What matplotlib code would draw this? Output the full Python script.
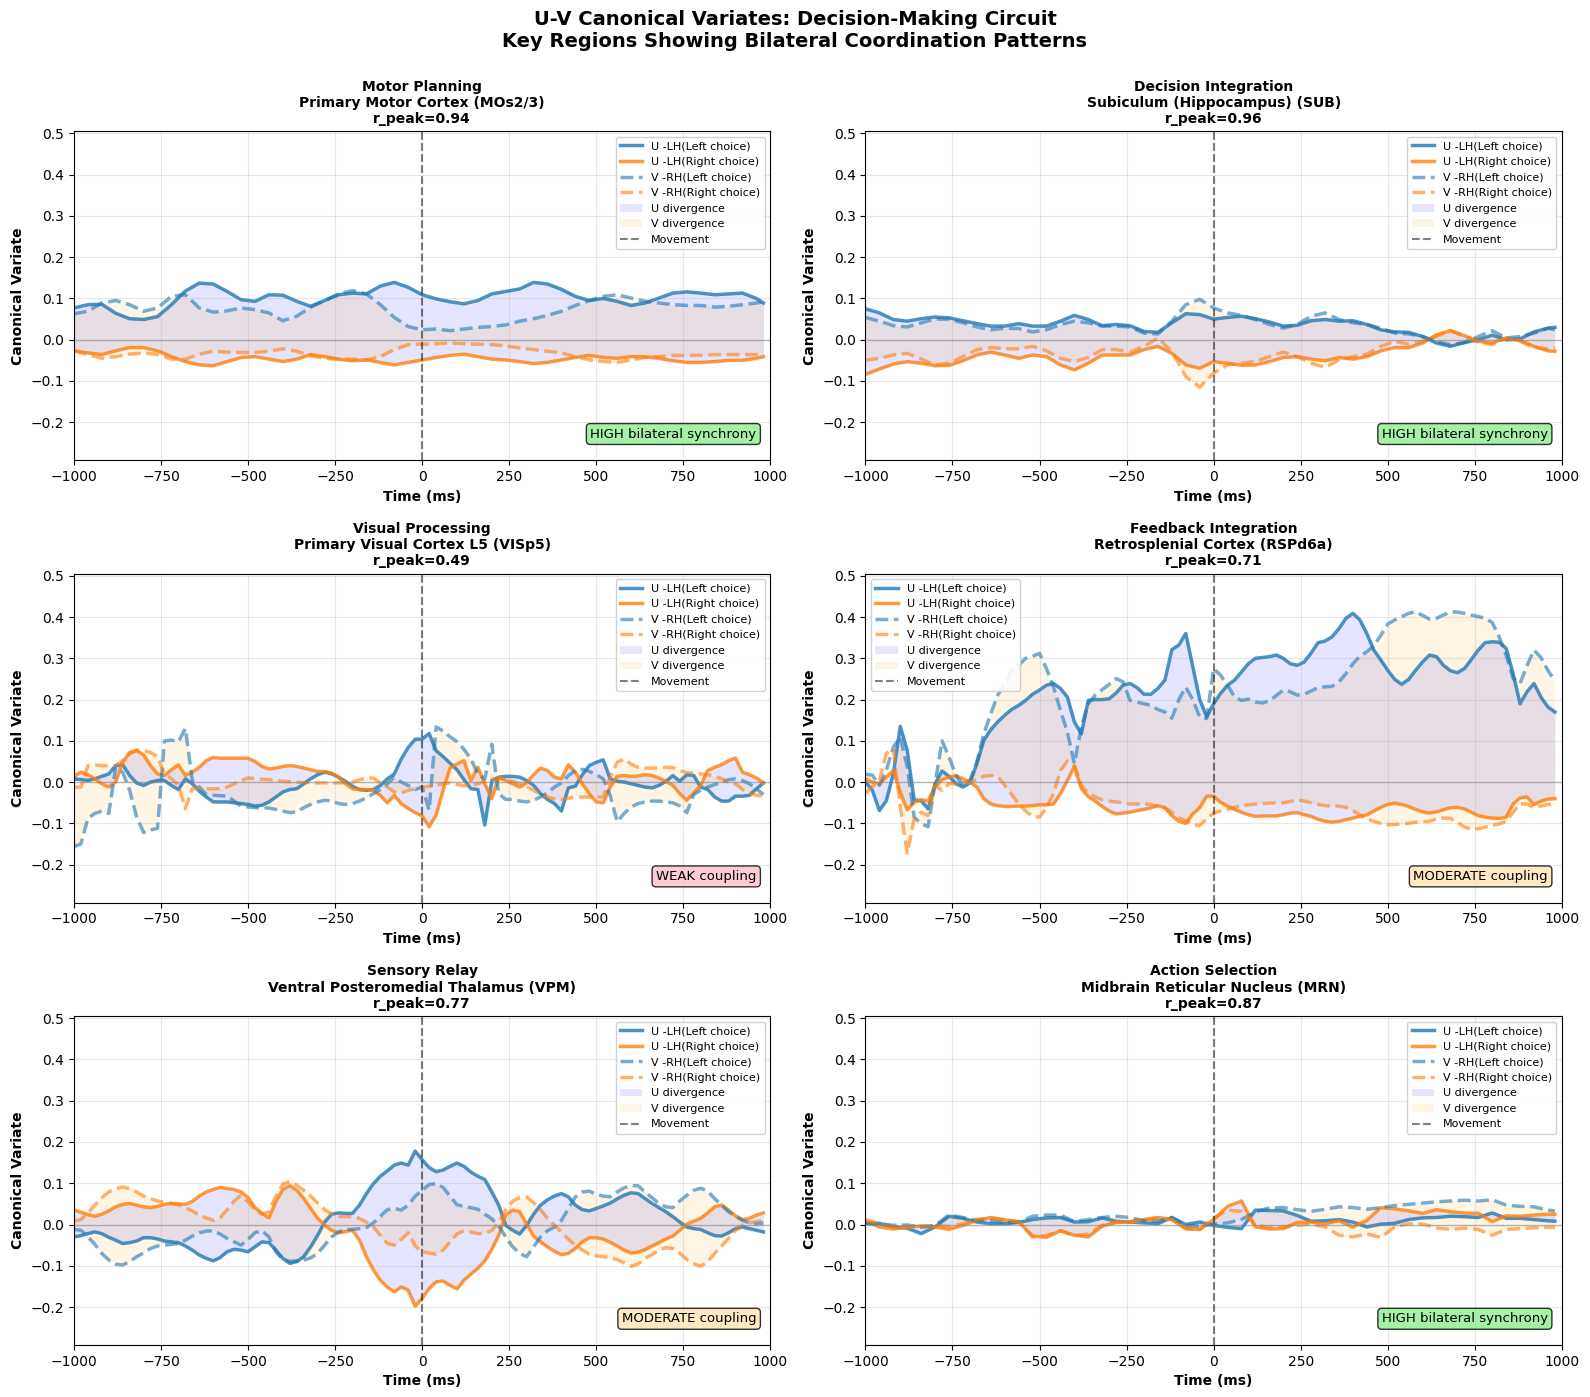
import numpy as np
import matplotlib
matplotlib.use("Agg")
import matplotlib.pyplot as plt

# time axes (ms): coarse grid for smooth panels, fine grid for jagged ones
T_COARSE = np.append(np.arange(-1000, 1000, 40), 980)
T_FINE = np.arange(-1000, 1000, 20)

TITLES = [
    "Motor Planning\nPrimary Motor Cortex (MOs2/3)\nr_peak=0.94",
    "Decision Integration\nSubiculum (Hippocampus) (SUB)\nr_peak=0.96",
    "Visual Processing\nPrimary Visual Cortex L5 (VISp5)\nr_peak=0.49",
    "Feedback Integration\nRetrosplenial Cortex (RSPd6a)\nr_peak=0.71",
    "Sensory Relay\nVentral Posteromedial Thalamus (VPM)\nr_peak=0.77",
    "Action Selection\nMidbrain Reticular Nucleus (MRN)\nr_peak=0.87",
]
COUPLING = ["HIGH bilateral synchrony", "HIGH bilateral synchrony", "WEAK coupling",
            "MODERATE coupling", "MODERATE coupling", "HIGH bilateral synchrony"]

# --- panel 1: MOs2/3 ---
U_L1 = [0.077, 0.085, 0.086, 0.064, 0.051, 0.049, 0.056, 0.085, 0.118, 0.137, 0.135, 0.117, 0.097,
        0.093, 0.109, 0.108, 0.093, 0.081, 0.095, 0.109, 0.113, 0.111, 0.13, 0.139, 0.127,
        0.109, 0.099, 0.092, 0.087, 0.095, 0.111, 0.117, 0.123, 0.139, 0.135, 0.122, 0.105, 0.095,
        0.1, 0.093, 0.083, 0.089, 0.101, 0.113, 0.116, 0.113, 0.109, 0.111, 0.113, 0.1, 0.089]
U_R1 = [-0.027, -0.032, -0.036, -0.027, -0.019, -0.019, -0.027, -0.041, -0.053, -0.061, -0.063,
        -0.053, -0.043, -0.041, -0.047, -0.053, -0.047, -0.036, -0.041, -0.047, -0.051, -0.049,
        -0.055, -0.061, -0.055,
        -0.049, -0.043, -0.038, -0.035, -0.041, -0.047, -0.049, -0.053, -0.058, -0.055, -0.049,
        -0.043, -0.038, -0.043, -0.045, -0.041, -0.041, -0.045, -0.051, -0.055, -0.055, -0.053,
        -0.05, -0.05, -0.045, -0.041]
V_L1 = [0.063, 0.069, 0.089, 0.095, 0.085, 0.069, 0.077, 0.105, 0.109, 0.077, 0.067, 0.07, 0.077,
        0.073, 0.065, 0.046, 0.057, 0.079, 0.095, 0.111, 0.119, 0.111, 0.085, 0.054, 0.032,
        0.024, 0.026, 0.022, 0.026, 0.03, 0.032, 0.036, 0.045, 0.051, 0.059, 0.069, 0.083, 0.095,
        0.105, 0.109, 0.101, 0.093, 0.089, 0.085, 0.083, 0.083, 0.079, 0.081, 0.085, 0.089, 0.092]
V_R1 = [-0.027, -0.036, -0.045, -0.041, -0.035, -0.032, -0.036, -0.047, -0.047, -0.035, -0.028,
        -0.03, -0.031, -0.031, -0.028, -0.022, -0.028, -0.039, -0.045, -0.047, -0.047, -0.049,
        -0.041, -0.024, -0.012,
        -0.011, -0.01, -0.008, -0.01, -0.011, -0.012, -0.015, -0.02, -0.024, -0.028, -0.032,
        -0.041, -0.049, -0.053, -0.055, -0.049, -0.043, -0.041, -0.038, -0.038, -0.038, -0.036,
        -0.036, -0.036, -0.036, -0.036]

# --- panel 2: SUB ---
U_L2 = [0.075, 0.065, 0.049, 0.045, 0.051, 0.055, 0.053, 0.046, 0.039, 0.033, 0.033, 0.039, 0.033,
        0.033, 0.045, 0.059, 0.049, 0.034, 0.037, 0.034, 0.02, 0.018, 0.041, 0.063, 0.061,
        0.05, 0.054, 0.057, 0.051, 0.043, 0.033, 0.035, 0.046, 0.049, 0.045, 0.046, 0.037, 0.024,
        0.019, 0.018, 0.008, -0.008, -0.016, -0.007, 0.0, 0.011, 0.0, 0.002, 0.019, 0.028, 0.03]
U_R2 = [-0.084, -0.071, -0.059, -0.053, -0.057, -0.063, -0.062, -0.051, -0.037, -0.03, -0.037,
        -0.045, -0.037, -0.041, -0.061, -0.073, -0.057, -0.037, -0.037, -0.037, -0.024, -0.016,
        -0.033, -0.061, -0.069,
        -0.053, -0.057, -0.062, -0.061, -0.053, -0.043, -0.041, -0.047, -0.051, -0.043, -0.047,
        -0.041, -0.027, -0.019, -0.019, -0.008, 0.012, 0.022, 0.01, -0.004, -0.008, 0.004,
        -0.002, -0.016, -0.027, -0.028]
V_L2 = [0.054, 0.045, 0.034, 0.031, 0.041, 0.05, 0.05, 0.041, 0.031, 0.024, 0.028, 0.027, 0.019,
        0.024, 0.037, 0.045, 0.041, 0.033, 0.033, 0.031, 0.016, 0.014, 0.045, 0.085, 0.098,
        0.077, 0.065, 0.059, 0.049, 0.037, 0.028, 0.037, 0.057, 0.065, 0.049, 0.041, 0.037, 0.028,
        0.016, 0.014, 0.008, -0.004, -0.012, -0.007, 0.008, 0.022, 0.004, 0.008, 0.016, 0.028, 0.024]
V_R2 = [-0.05, -0.045, -0.037, -0.033, -0.047, -0.061, -0.057, -0.041, -0.024, -0.019, -0.022,
        -0.022, -0.016, -0.027, -0.045, -0.053, -0.043, -0.024, -0.024, -0.03, -0.016, 0.004,
        -0.028, -0.089, -0.115,
        -0.081, -0.061, -0.057, -0.053, -0.041, -0.03, -0.041, -0.057, -0.067, -0.049, -0.041,
        -0.035, -0.016, -0.004, -0.011, -0.004, 0.008, 0.022, 0.008, -0.006, -0.012, 0.004,
        -0.004, -0.019, -0.022, -0.019]

# --- panel 3: VISp5 ---
U_L3 = [0.008, 0.006, 0.004, 0.008, 0.014, 0.02, 0.04, 0.042, 0.016, -0.002,
        -0.008, 0.0, 0.004, 0.004, -0.008, -0.018, 0.008, -0.004, -0.022, -0.036,
        -0.048, -0.048, -0.048, -0.05, -0.052, -0.054, -0.058, -0.056, -0.048, -0.036,
        -0.024, -0.018, -0.016, -0.004, 0.008, 0.018, 0.024, 0.02, 0.012, 0.002,
        -0.01, -0.018, -0.02, -0.018, -0.008, 0.008, 0.02, 0.056, 0.084, 0.104,
        0.104, 0.118, 0.076, 0.062, 0.046, 0.03, 0.006, -0.016, -0.018, -0.104,
        0.004, 0.012, 0.014, 0.014, 0.012, 0.004, -0.008, -0.028, -0.042, -0.052,
        -0.07, -0.014, -0.01, 0.018, 0.04, 0.048, 0.054, 0.008, 0.002, 0.0,
        -0.004, -0.008, -0.012, -0.014, -0.008, 0.002, 0.016, 0.002, 0.018, 0.016,
        -0.012, -0.018, -0.036, -0.046, -0.046, -0.034, -0.034, -0.032, -0.016, -0.002]
U_R3 = [0.014, 0.024, 0.018, 0.008, -0.004, -0.012, 0.0, 0.048, 0.072, 0.076,
        0.066, 0.04, 0.02, 0.016, 0.03, 0.042, 0.016, 0.024, 0.036, 0.052,
        0.06, 0.058, 0.058, 0.058, 0.058, 0.058, 0.05, 0.038, 0.032, 0.034,
        0.038, 0.04, 0.038, 0.034, 0.03, 0.026, 0.026, 0.022, 0.012, -0.004,
        -0.016, -0.018, -0.018, -0.02, -0.032, -0.05, -0.032, -0.052, -0.064, -0.074,
        -0.082, -0.108, -0.08, -0.02, 0.034, 0.044, 0.052, 0.004, 0.036, -0.004,
        -0.04, 0.012, 0.004, -0.004, -0.012, -0.002, 0.018, 0.034, 0.028, 0.012,
        0.008, 0.042, 0.024, -0.004, -0.028, -0.048, -0.05, -0.012, 0.014, 0.016,
        0.014, 0.015, 0.018, 0.016, 0.01, 0.002, -0.008, -0.028, -0.044, -0.026,
        -0.008, 0.028, 0.036, 0.042, 0.052, 0.058, 0.024, 0.018, 0.01, -0.002]
V_L3 = [-0.156, -0.15, -0.088, -0.076, -0.07, -0.076, 0.036, 0.024, -0.02, -0.084,
        -0.122, -0.116, -0.112, 0.1, 0.102, 0.098, 0.13, 0.004, -0.012, -0.03,
        -0.032, -0.033, -0.034, -0.046, -0.058, -0.06, -0.062, -0.062, -0.063, -0.066,
        -0.07, -0.074, -0.072, -0.062, -0.054, -0.048, -0.044, -0.046, -0.052, -0.054,
        -0.052, -0.046, -0.038, -0.028, -0.018, -0.004, 0.012, 0.0, -0.008, -0.018,
        -0.012, -0.068, 0.134, 0.124, 0.11, 0.098, 0.08, 0.056, 0.02, 0.008,
        0.092, -0.028, -0.042, -0.042, -0.046, -0.048, -0.044, -0.036, -0.026, -0.012,
        -0.002, 0.016, 0.028, 0.031, 0.026, 0.018, 0.008, -0.032, -0.096, -0.076,
        -0.06, -0.052, -0.048, -0.046, -0.046, -0.048, -0.05, -0.058, -0.074, -0.03,
        -0.02, -0.012, -0.006, 0.0, 0.006, 0.008, 0.004, -0.004, -0.016, -0.03]
V_R3 = [-0.012, -0.012, 0.04, 0.042, 0.04, 0.04, 0.04, 0.052, 0.068, 0.078,
        0.076, 0.072, 0.062, 0.02, 0.008, -0.008, -0.064, -0.016, -0.014, -0.016,
        -0.016, -0.016, -0.012, -0.004, 0.004, 0.01, 0.009, 0.007, 0.006, 0.004,
        0.002, 0.001, 0.0, -0.001, -0.001, -0.002, -0.002, -0.002, -0.002, -0.001,
        0.0, 0.006, 0.01, 0.01, -0.002, -0.012, -0.024, -0.026, -0.02, -0.016,
        -0.012, -0.01, -0.008, -0.004, -0.002, -0.006, -0.009, -0.009, -0.004, 0.002,
        0.007, 0.008, 0.007, 0.002, -0.004, -0.01, -0.02, -0.03, -0.036, -0.041,
        -0.042, -0.039, -0.036, -0.036, -0.036, -0.036, -0.036, 0.012, 0.048, 0.056,
        0.044, 0.036, 0.034, 0.034, 0.035, 0.036, 0.035, 0.028, 0.023, 0.022,
        0.02, 0.018, 0.015, 0.008, 0.0, -0.004, -0.018, -0.026, -0.032, -0.034]

# --- panel 4: RSPd6a ---
U_L4 = [0.0, -0.02, -0.069, -0.045, 0.02, 0.135, 0.077, -0.043, -0.045, -0.065,
        -0.004, 0.027, 0.014, -0.004, -0.012, -0.002, 0.045, 0.101, 0.127, 0.146,
        0.162, 0.176, 0.186, 0.198, 0.213, 0.223, 0.235, 0.239, 0.227, 0.206,
        0.146, 0.117, 0.198, 0.2, 0.2, 0.202, 0.216, 0.235, 0.239, 0.229,
        0.213, 0.213, 0.227, 0.247, 0.321, 0.332, 0.36, 0.28, 0.2, 0.158,
        0.19, 0.215, 0.235, 0.247, 0.267, 0.287, 0.3, 0.302, 0.304, 0.308,
        0.3, 0.287, 0.283, 0.291, 0.313, 0.338, 0.342, 0.352, 0.372, 0.397,
        0.409, 0.393, 0.36, 0.32, 0.296, 0.271, 0.249, 0.237, 0.249, 0.271,
        0.291, 0.308, 0.304, 0.283, 0.27, 0.265, 0.275, 0.297, 0.32, 0.338,
        0.34, 0.339, 0.324, 0.263, 0.19, 0.219, 0.239, 0.206, 0.182, 0.17]
U_R4 = [0.008, 0.0, -0.004, 0.012, 0.028, -0.024, -0.067, -0.049, -0.043, -0.045,
        -0.012, 0.006, 0.012, 0.016, 0.008, 0.0, -0.012, -0.04, -0.053, -0.057,
        -0.059, -0.059, -0.058, -0.058, -0.057, -0.055, -0.055, -0.053, -0.028, 0.004,
        0.038, -0.016, -0.035, -0.046, -0.059, -0.07, -0.077, -0.075, -0.073, -0.069,
        -0.066, -0.062, -0.057, -0.062, -0.081, -0.095, -0.1, -0.077, -0.062, -0.034,
        -0.034, -0.049, -0.058, -0.066, -0.073, -0.079, -0.083, -0.082, -0.082, -0.082,
        -0.079, -0.075, -0.074, -0.079, -0.083, -0.09, -0.095, -0.097, -0.095, -0.091,
        -0.087, -0.083, -0.079, -0.07, -0.061, -0.054, -0.051, -0.054, -0.059, -0.066,
        -0.072, -0.075, -0.072, -0.067, -0.062, -0.061, -0.065, -0.073, -0.081, -0.085,
        -0.087, -0.088, -0.085, -0.053, -0.038, -0.036, -0.054, -0.046, -0.041, -0.04]
V_L4 = [0.019, 0.017, -0.008, 0.028, 0.085, 0.109, 0.036, -0.085, -0.101, -0.108,
        -0.004, 0.1, 0.061, 0.016, -0.008, 0.004, 0.049, 0.117, 0.166, 0.211,
        0.239, 0.271, 0.283, 0.3, 0.305, 0.312, 0.275, 0.231, 0.174, 0.121,
        0.045, 0.134, 0.19, 0.211, 0.224, 0.237, 0.251, 0.243, 0.198, 0.194,
        0.19, 0.186, 0.176, 0.17, 0.155, 0.2, 0.23, 0.2, 0.158, 0.154,
        0.275, 0.259, 0.235, 0.206, 0.198, 0.201, 0.194, 0.192, 0.197, 0.21,
        0.223, 0.219, 0.211, 0.213, 0.221, 0.229, 0.231, 0.232, 0.243, 0.263,
        0.287, 0.305, 0.316, 0.33, 0.356, 0.383, 0.393, 0.401, 0.409, 0.413,
        0.404, 0.395, 0.397, 0.405, 0.413, 0.412, 0.409, 0.405, 0.401, 0.397,
        0.387, 0.352, 0.308, 0.251, 0.239, 0.283, 0.32, 0.302, 0.271, 0.245]
V_R4 = [-0.027, -0.012, 0.004, 0.07, 0.08, -0.06, -0.172, -0.089, -0.073, -0.081,
        -0.008, -0.02, -0.004, -0.004, -0.002, 0.0, 0.006, 0.014, 0.016, 0.014,
        -0.008, -0.03, -0.053, -0.07, -0.083, -0.085, -0.062, -0.028, 0.028, 0.051,
        0.04, -0.008, -0.027, -0.036, -0.043, -0.046, -0.048, -0.05, -0.053, -0.053,
        -0.053, -0.054, -0.059, -0.062, -0.073, -0.087, -0.093, -0.103, -0.105, -0.089,
        -0.075, -0.07, -0.066, -0.061, -0.057, -0.055, -0.053, -0.052, -0.051, -0.05,
        -0.05, -0.047, -0.043, -0.046, -0.05, -0.054, -0.057, -0.058, -0.058, -0.061,
        -0.069, -0.079, -0.089, -0.095, -0.1, -0.103, -0.103, -0.101, -0.1, -0.097,
        -0.096, -0.095, -0.089, -0.087, -0.088, -0.097, -0.109, -0.114, -0.113, -0.109,
        -0.105, -0.101, -0.095, -0.073, -0.053, -0.053, -0.062, -0.058, -0.054, -0.055]

# --- panel 5: VPM ---
U_L5 = [-0.03, -0.027, -0.022, -0.018, -0.022, -0.031, -0.038, -0.046, -0.044, -0.04,
        -0.032, -0.032, -0.035, -0.04, -0.042, -0.044, -0.052, -0.062, -0.074, -0.082,
        -0.088, -0.08, -0.066, -0.06, -0.062, -0.066, -0.054, -0.042, -0.044, -0.062,
        -0.082, -0.094, -0.09, -0.078, -0.054, -0.026, 0.006, 0.025, 0.028, 0.027,
        0.027, 0.047, 0.075, 0.099, 0.117, 0.13, 0.144, 0.149, 0.144, 0.178,
        0.157, 0.138, 0.128, 0.132, 0.141, 0.149, 0.141, 0.127, 0.117, 0.109,
        0.079, 0.047, -0.002, -0.014, -0.023, -0.002, 0.025, 0.047, 0.06, 0.069,
        0.075, 0.067, 0.047, 0.036, 0.033, 0.039, 0.045, 0.052, 0.062, 0.071,
        0.077, 0.075, 0.063, 0.051, 0.041, 0.031, 0.019, 0.006, -0.006, -0.01,
        -0.012, -0.02, -0.027, -0.028, -0.02, -0.01, -0.006, -0.01, -0.014, -0.018]
U_R5 = [0.035, 0.03, 0.024, 0.02, 0.025, 0.033, 0.043, 0.049, 0.051, 0.047,
        0.043, 0.041, 0.044, 0.049, 0.051, 0.05, 0.049, 0.056, 0.069, 0.079,
        0.085, 0.09, 0.087, 0.085, 0.079, 0.065, 0.041, 0.027, 0.016, 0.055,
        0.085, 0.094, 0.083, 0.063, 0.039, 0.015, -0.002, -0.014, -0.02, -0.017,
        -0.014, -0.038, -0.078, -0.11, -0.135, -0.152, -0.163, -0.151, -0.159, -0.198,
        -0.179, -0.155, -0.139, -0.137, -0.147, -0.156, -0.135, -0.12, -0.106, -0.088,
        -0.06, -0.026, 0.023, 0.035, 0.031, 0.001, -0.028, -0.042, -0.054, -0.065,
        -0.073, -0.07, -0.058, -0.042, -0.032, -0.032, -0.035, -0.043, -0.052, -0.062,
        -0.069, -0.067, -0.061, -0.052, -0.044, -0.035, -0.028, -0.014, 0.001, 0.008,
        0.015, 0.028, 0.043, 0.047, 0.035, 0.021, 0.012, 0.015, 0.023, 0.028]
V_L5 = [-0.012, -0.014, -0.03, -0.048, -0.07, -0.086, -0.096, -0.098, -0.09, -0.078,
        -0.069, -0.058, -0.052, -0.05, -0.048, -0.046, -0.038, -0.028, -0.02, -0.016,
        -0.015, -0.023, -0.034, -0.042, -0.05, -0.036, -0.02, -0.015, -0.03, -0.066,
        -0.085, -0.089, -0.088, -0.086, -0.081, -0.07, -0.05, -0.03, -0.018, -0.012,
        -0.012, -0.01, -0.007, 0.004, 0.02, 0.036, 0.039, 0.035, 0.047, 0.069,
        0.083, 0.097, 0.099, 0.09, 0.069, 0.048, 0.044, 0.041, 0.037, 0.025,
        0.014, -0.004, -0.03, -0.054, -0.07, -0.078, -0.054, -0.03, -0.015, -0.006,
        0.01, 0.039, 0.067, 0.079, 0.081, 0.073, 0.069, 0.067, 0.079, 0.089,
        0.094, 0.094, 0.079, 0.065, 0.051, 0.043, 0.041, 0.057, 0.071, 0.083,
        0.088, 0.081, 0.063, 0.047, 0.031, 0.02, 0.01, 0.004, 0.002, 0.004]
V_R5 = [0.009, 0.012, 0.028, 0.047, 0.065, 0.079, 0.087, 0.091, 0.087, 0.079,
        0.069, 0.063, 0.057, 0.054, 0.051, 0.048, 0.041, 0.033, 0.023, 0.016,
        0.01, 0.017, 0.036, 0.057, 0.071, 0.055, 0.036, 0.025, 0.031, 0.069,
        0.098, 0.104, 0.095, 0.083, 0.069, 0.052, 0.036, 0.025, 0.02, 0.019,
        0.019, 0.015, 0.006, -0.006, -0.026, -0.046, -0.05, -0.036, -0.02, -0.052,
        -0.066, -0.069, -0.072, -0.062, -0.042, -0.023, -0.015, -0.018, -0.022, -0.022,
        -0.014, 0.004, 0.036, 0.057, 0.065, 0.067, 0.053, 0.036, 0.015, -0.002,
        -0.018, -0.036, -0.05, -0.062, -0.072, -0.076, -0.078, -0.08, -0.085, -0.093,
        -0.101, -0.096, -0.082, -0.073, -0.062, -0.056, -0.058, -0.07, -0.085, -0.095,
        -0.101, -0.09, -0.07, -0.052, -0.034, -0.014, -0.002, 0.004, 0.007, 0.01]

# --- panel 6: MRN ---
U_L6 = [0.004, 0.003, -0.006, -0.009, -0.022, -0.006, 0.02, 0.015, 0.006, 0.002, 0.002, 0.005,
        0.012, 0.016, 0.017, 0.006, 0.007, 0.016, 0.008, 0.006, 0.004, 0.002, 0.017, 0.0, 0.006,
        -0.002, -0.007, -0.01, 0.035, 0.034, 0.033, 0.022, 0.008, 0.009, 0.012, 0.006, -0.006,
        0.001, 0.003, 0.012, 0.016, 0.017, 0.02, 0.019, 0.017, 0.028, 0.015, 0.015, 0.012,
        0.009, 0.008]
U_R6 = [0.009, -0.006, -0.011, -0.006, -0.004, -0.006, -0.012, -0.002, 0.01, 0.017, 0.011, 0.007,
        -0.028, -0.031, -0.015, -0.026, -0.03, -0.004, 0.005, 0.007, 0.012, 0.017, 0.012, -0.01,
        -0.012,
        0.012, 0.044, 0.057, -0.006, -0.011, -0.01, 0.005, 0.006, 0.002, 0.009, -0.006, 0.01,
        0.041, 0.038, 0.033, 0.027, 0.036, 0.031, 0.028, 0.027, 0.007, 0.021, 0.02, 0.023,
        0.025, 0.025]
V_L6 = [0.001, 0.002, -0.002, -0.001, -0.007, -0.002, 0.023, 0.017, 0.01, 0.01, 0.005, 0.006,
        0.02, 0.023, 0.023, 0.007, 0.012, 0.017, 0.02, 0.017, 0.009, 0.008, 0.017, -0.002, -0.004,
        0.001, 0.004, 0.012, 0.031, 0.04, 0.041, 0.036, 0.032, 0.037, 0.043, 0.041, 0.037,
        0.041, 0.046, 0.049, 0.052, 0.055, 0.057, 0.059, 0.057, 0.06, 0.047, 0.044, 0.043,
        0.035, 0.033]
V_R6 = [0.012, 0.001, -0.006, -0.006, -0.004, -0.002, -0.005, 0.002, 0.013, 0.015, 0.012, 0.006,
        -0.03, -0.026, -0.015, -0.027, -0.023, -0.002, 0.006, 0.006, 0.01, 0.015, 0.012, -0.01,
        -0.012,
        0.015, 0.035, 0.032, -0.002, -0.006, -0.006, -0.002, 0.001, -0.006, -0.026, -0.03,
        -0.023, -0.031, -0.006, 0.002, 0.001, -0.008, -0.012, -0.009, -0.012, -0.026, -0.012,
        -0.01, -0.008, -0.007, -0.007]

PANELS = [
    (T_COARSE, U_L1, U_R1, V_L1, V_R1),
    (T_COARSE, U_L2, U_R2, V_L2, V_R2),
    (T_FINE, U_L3, U_R3, V_L3, V_R3),
    (T_FINE, U_L4, U_R4, V_L4, V_R4),
    (T_FINE, U_L5, U_R5, V_L5, V_R5),
    (T_COARSE, U_L6, U_R6, V_L6, V_R6),
]
BOX_COLORS = {"HIGH": "lightgreen", "WEAK": "pink", "MODERATE": "moccasin"}

BLUE = "#1f77b4"
ORANGE = "#ff7f0e"

fig, axes = plt.subplots(3, 2, figsize=(15.9, 13.97), dpi=100)
fig.subplots_adjust(left=0.0465, right=0.9823, top=0.906, bottom=0.0372,
                    wspace=0.1365, hspace=0.345)

for i, ax in enumerate(axes.flat):
    t, ul, ur, vl, vr = PANELS[i]
    ax.plot(t, ul, color=BLUE, lw=2.5, alpha=0.8, label="U -LH(Left choice)")
    ax.plot(t, ur, color=ORANGE, lw=2.5, alpha=0.8, label="U -LH(Right choice)")
    ax.plot(t, vl, color=BLUE, lw=2.5, ls="--", alpha=0.6, label="V -RH(Left choice)")
    ax.plot(t, vr, color=ORANGE, lw=2.5, ls="--", alpha=0.6, label="V -RH(Right choice)")
    ax.fill_between(t, ul, ur, color="blue", alpha=0.1, lw=0, label="U divergence")
    ax.fill_between(t, vl, vr, color="orange", alpha=0.1, lw=0, label="V divergence")
    ax.axvline(0, color="black", ls="--", lw=1.5, alpha=0.5, label="Movement")
    ax.axhline(0, color="gray", lw=1, alpha=0.5)

    ax.set_xlim(-1000, 1000)
    ax.set_ylim(-0.292, 0.505)
    ax.set_xticks(np.arange(-1000, 1001, 250))
    ax.set_yticks(np.arange(-0.2, 0.51, 0.1))
    ax.grid(True, alpha=0.3)
    ax.set_title(TITLES[i], fontsize=10, fontweight="bold")
    ax.set_xlabel("Time (ms)", fontsize=10, fontweight="bold")
    ax.set_ylabel("Canonical Variate", fontsize=10, fontweight="bold")
    ax.legend(loc="upper left" if i == 3 else "upper right", fontsize=8, framealpha=0.9)

    label = COUPLING[i]
    ax.text(0.98, 0.06, label, transform=ax.transAxes, ha="right", va="bottom", fontsize=9.5,
            bbox=dict(boxstyle="round,pad=0.3", facecolor=BOX_COLORS[label.split()[0]],
                      edgecolor="black", alpha=0.8))

fig.suptitle("U-V Canonical Variates: Decision-Making Circuit\n"
             "Key Regions Showing Bilateral Coordination Patterns",
             fontsize=14, fontweight="bold", y=0.993)

fig.savefig("out.png", dpi=100)
